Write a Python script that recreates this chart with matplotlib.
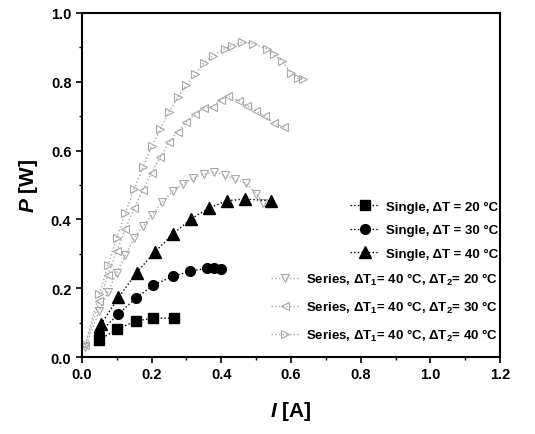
import matplotlib.pyplot as plt
from matplotlib.ticker import MultipleLocator

plt.rcParams['font.family'] = ['Liberation Sans', 'DejaVu Sans']
plt.rcParams['font.weight'] = 'bold'
plt.rcParams['mathtext.fontset'] = 'custom'
plt.rcParams['mathtext.rm'] = 'Liberation Sans:bold'
plt.rcParams['mathtext.it'] = 'Liberation Sans:italic:bold'
plt.rcParams['mathtext.bf'] = 'Liberation Sans:bold'

# ---- data ----
I_s20 = [0.05, 0.10, 0.155, 0.205, 0.265]
P_s20 = [0.05, 0.08, 0.105, 0.113, 0.113]

I_s30 = [0.05, 0.105, 0.155, 0.205, 0.26, 0.31, 0.36, 0.38, 0.40]
P_s30 = [0.07, 0.125, 0.171, 0.209, 0.234, 0.249, 0.258, 0.258, 0.255]

I_s40 = [0.055, 0.105, 0.157, 0.21, 0.262, 0.313, 0.365, 0.415, 0.468, 0.543]
P_s40 = [0.095, 0.173, 0.245, 0.306, 0.358, 0.401, 0.433, 0.454, 0.459, 0.454]

I_ser20 = [0.01, 0.05, 0.075, 0.10, 0.125, 0.15, 0.175, 0.20, 0.23, 0.26,
           0.29, 0.32, 0.35, 0.38, 0.41, 0.44, 0.47, 0.50, 0.52]
P_ser20 = [0.028, 0.135, 0.19, 0.245, 0.295, 0.345, 0.38, 0.412, 0.45, 0.482,
           0.503, 0.52, 0.532, 0.537, 0.528, 0.516, 0.505, 0.475, 0.447]

I_ser30 = [0.01, 0.05, 0.075, 0.10, 0.125, 0.15, 0.175, 0.20, 0.225, 0.25,
           0.275, 0.30, 0.325, 0.35, 0.375, 0.40, 0.42, 0.45, 0.475, 0.50,
           0.525, 0.55, 0.58]
P_ser30 = [0.034, 0.164, 0.239, 0.308, 0.373, 0.432, 0.486, 0.536, 0.58, 0.625,
           0.655, 0.684, 0.705, 0.724, 0.728, 0.748, 0.76, 0.745, 0.73, 0.715,
           0.70, 0.68, 0.668]

I_ser40 = [0.01, 0.05, 0.075, 0.10, 0.125, 0.15, 0.175, 0.20, 0.225, 0.25,
           0.275, 0.30, 0.325, 0.35, 0.375, 0.41, 0.43, 0.46, 0.49, 0.53,
           0.55, 0.575, 0.60, 0.62, 0.635]
P_ser40 = [0.038, 0.183, 0.267, 0.346, 0.419, 0.488, 0.551, 0.612, 0.662, 0.712,
           0.755, 0.79, 0.822, 0.855, 0.875, 0.896, 0.905, 0.915, 0.91, 0.896,
           0.88, 0.86, 0.825, 0.81, 0.808]

single_labels = ['Single, ΔT = 20 °C', 'Single, ΔT = 30 °C', 'Single, ΔT = 40 °C']
series_labels = ['Series, ΔT$_1$= 40 °C, ΔT$_2$= 20 °C',
                 'Series, ΔT$_1$= 40 °C, ΔT$_2$= 30 °C',
                 'Series, ΔT$_1$= 40 °C, ΔT$_2$= 40 °C']

GRAY = '#a8a8a8'

fig = plt.figure(figsize=(5.35, 4.35), dpi=100)
ax = fig.add_axes([0.153, 0.177, 0.782, 0.791])

# series (open gray markers, dotted lines)
h4, = ax.plot(I_ser20, P_ser20, ls=':', lw=1, color=GRAY, marker='v', ms=6,
              mfc='none', mec=GRAY, mew=0.8, label=series_labels[0])
h5, = ax.plot(I_ser30, P_ser30, ls=':', lw=1, color=GRAY, marker='<', ms=6,
              mfc='none', mec=GRAY, mew=0.8, label=series_labels[1])
h6, = ax.plot(I_ser40, P_ser40, ls=':', lw=1, color=GRAY, marker='>', ms=6,
              mfc='none', mec=GRAY, mew=0.8, label=series_labels[2])

# single modules (filled black markers)
h1, = ax.plot(I_s20, P_s20, ls=':', lw=1, color='black', marker='s', ms=6.5,
              label=single_labels[0])
h2, = ax.plot(I_s30, P_s30, ls=':', lw=1, color='black', marker='o', ms=7,
              label=single_labels[1])
h3, = ax.plot(I_s40, P_s40, ls=':', lw=1, color='black', marker='^', ms=8,
              label=single_labels[2])

ax.set_xlim(0, 1.2)
ax.set_ylim(0, 1.0)
ax.xaxis.set_major_locator(MultipleLocator(0.2))
ax.xaxis.set_minor_locator(MultipleLocator(0.1))
ax.yaxis.set_major_locator(MultipleLocator(0.2))
ax.yaxis.set_minor_locator(MultipleLocator(0.1))
ax.tick_params(which='major', direction='out', length=4, width=1.2,
               labelsize=10.5, top=False, right=False)
ax.tick_params(which='minor', direction='out', length=2.5, width=1,
               top=False, right=False)
for lab in ax.get_xticklabels() + ax.get_yticklabels():
    lab.set_fontweight('bold')
for sp in ax.spines.values():
    sp.set_linewidth(1.5)

ax.set_xlabel('$I$ [A]', fontsize=15, fontweight='bold', labelpad=13)
ax.set_ylabel('$P$ [W]', fontsize=15, fontweight='bold', labelpad=8)

leg1 = ax.legend(handles=[h1, h2, h3], loc='upper right',
                 bbox_to_anchor=(0.995, 0.455), frameon=False, fontsize=9.5,
                 borderpad=0, borderaxespad=0, handlelength=2.2,
                 handletextpad=0.5, labelspacing=0.85)
ax.add_artist(leg1)
ax.legend(handles=[h4, h5, h6], loc='upper right',
          bbox_to_anchor=(0.995, 0.25), frameon=False, fontsize=9.5,
          borderpad=0, borderaxespad=0, handlelength=2.2,
          handletextpad=0.5, labelspacing=0.9)

fig.savefig('out.png', dpi=100, facecolor='white')
